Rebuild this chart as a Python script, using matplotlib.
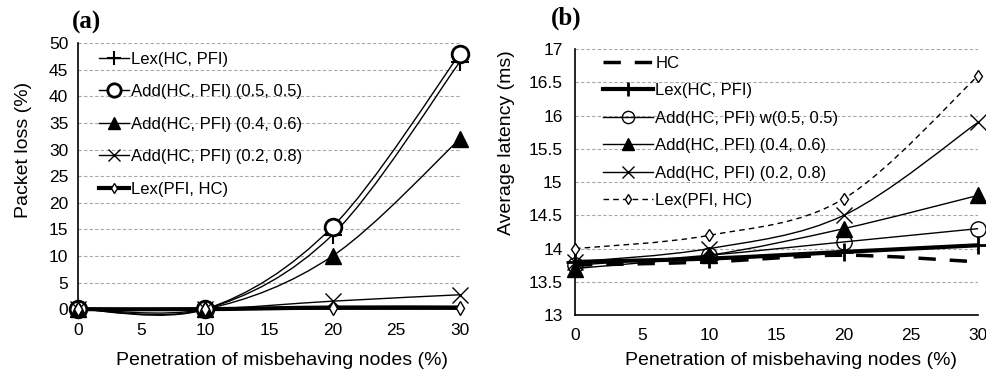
import numpy as np
import matplotlib
matplotlib.use("Agg")
import matplotlib.pyplot as plt
from matplotlib.path import Path
from matplotlib.patches import PathPatch
from matplotlib.lines import Line2D

plt.rcParams['font.family'] = ['Liberation Sans', 'DejaVu Sans']

x = [0, 10, 20, 30]

# (a) packet loss (%)
loss_lex_hc_pfi = [0, 0, 14, 46.5]
loss_add_55     = [0, 0, 15.5, 48]
loss_add_46     = [0, 0, 10, 32]
loss_add_28     = [0, 0, 1.5, 2.7]
loss_lex_pfi_hc = [0, 0, 0.3, 0.3]

# (b) average latency (ms)
lat_hc          = [13.75, 13.8, 13.9, 13.8]
lat_lex_hc_pfi  = [13.8, 13.85, 13.95, 14.05]
lat_add_55      = [13.75, 13.9, 14.1, 14.3]
lat_add_46      = [13.7, 13.9, 14.3, 14.8]
lat_add_28      = [13.8, 14.0, 14.5, 15.9]
lat_lex_pfi_hc  = [14.0, 14.2, 14.75, 16.6]

labels_a = ["Lex(HC, PFI)", "Add(HC, PFI) (0.5, 0.5)", "Add(HC, PFI) (0.4, 0.6)",
            "Add(HC, PFI) (0.2, 0.8)", "Lex(PFI, HC)"]
labels_b = ["HC", "Lex(HC, PFI)", "Add(HC, PFI) w(0.5, 0.5)", "Add(HC, PFI) (0.4, 0.6)",
            "Add(HC, PFI) (0.2, 0.8)", "Lex(PFI, HC)"]


def smooth_path(xs, ys):
    # excel-like smoothed line: cubic bezier through the points
    p = np.column_stack([xs, ys]).astype(float)
    n = len(p)
    verts = [p[0]]
    codes = [Path.MOVETO]
    for i in range(n - 1):
        p0 = p[i - 1] if i > 0 else p[i]
        p3 = p[i + 2] if i + 2 < n else p[i + 1]
        c1 = p[i] + (p[i + 1] - p0) / 6
        c2 = p[i + 1] - (p3 - p[i]) / 6
        verts += [c1, c2, p[i + 1]]
        codes += [Path.CURVE4] * 3
    return Path(verts, codes)


def draw(ax, ys, label, lw=1.0, ls='-', marker=None, ms=8, mfc='black', mew=1.0, handles=None):
    ax.add_patch(PathPatch(smooth_path(x, ys), fill=False, edgecolor='black', lw=lw,
                           linestyle=ls, clip_on=False, zorder=3, capstyle='butt'))
    if marker:
        ax.plot(x, ys, ls='none', marker=marker, ms=ms, mfc=mfc, mec='black', mew=mew,
                clip_on=False, zorder=4)
    handles.append(Line2D([], [], color='black', lw=lw, ls=ls, marker=marker, ms=ms * 0.8,
                          mfc=mfc, mec='black', mew=mew, label=label))


def style(ax, ylim, yticks, pad_x, pad_y):
    ax.set_xlim(0, 30)
    ax.set_ylim(*ylim)
    ax.set_xticks(range(0, 31, 5))
    ax.set_yticks(yticks)
    ax.tick_params(length=0, labelsize=12.5)
    ax.tick_params(axis='x', pad=pad_x)
    ax.tick_params(axis='y', pad=pad_y)
    for s in ['top', 'right']:
        ax.spines[s].set_visible(False)
    ax.spines['left'].set_linewidth(1.2)
    ax.spines['bottom'].set_linewidth(1.2)
    ax.yaxis.grid(True, color='#a8a8a8', lw=0.8, linestyle=(0, (3, 2)))
    ax.set_axisbelow(True)
    ax.set_xlabel("Penetration of misbehaving nodes (%)", fontsize=14)


fig = plt.figure(figsize=(9.87, 3.72), dpi=100)

# ---- (a)
ax1 = fig.add_axes([0.079, 0.169, 0.387, 0.715])
h1 = []
draw(ax1, loss_lex_hc_pfi, labels_a[0], marker='+', ms=13, mew=1.5, handles=h1)
draw(ax1, loss_add_55, labels_a[1], marker='o', ms=12, mfc='white', mew=2, handles=h1)
draw(ax1, loss_add_46, labels_a[2], marker='^', ms=11, handles=h1)
draw(ax1, loss_add_28, labels_a[3], marker='x', ms=11, mew=1.0, handles=h1)
draw(ax1, loss_lex_pfi_hc, labels_a[4], lw=3, marker='d', ms=7, mfc='white', mew=1.0, handles=h1)
style(ax1, (0, 50), range(0, 51, 5), 10, 7)
ax1.set_ylabel("Packet loss (%)", fontsize=14)
ax1.xaxis.set_label_coords(0.535, -0.16)
ax1.yaxis.set_label_coords(-0.12, 0.60)
ax1.legend(handles=h1, loc='upper left', bbox_to_anchor=(0.055, 0.968), frameon=False,
           fontsize=12, handlelength=1.8, handletextpad=0.15, labelspacing=1.05,
           borderpad=0, borderaxespad=0)
fig.text(0.073, 0.94, "(a)", fontsize=18, fontweight='bold', family='Liberation Serif',
         va='center', ha='left')

# ---- (b)
ax2 = fig.add_axes([0.5826, 0.153, 0.4084, 0.715])
h2 = []
draw(ax2, lat_hc, labels_b[0], lw=2.5, ls=(0, (5, 4)), handles=h2)
draw(ax2, lat_lex_hc_pfi, labels_b[1], lw=3, marker='+', ms=13, mew=2, handles=h2)
draw(ax2, lat_add_55, labels_b[2], marker='o', ms=11, mfc='none', mew=1.0, handles=h2)
draw(ax2, lat_add_46, labels_b[3], marker='^', ms=11, handles=h2)
draw(ax2, lat_add_28, labels_b[4], marker='x', ms=11, mew=1.0, handles=h2)
draw(ax2, lat_lex_pfi_hc, labels_b[5], ls=(0, (4, 3)), marker='d', ms=6, mfc='white', mew=1.0, handles=h2)
style(ax2, (13, 17), np.arange(13, 17.01, 0.5), 9, 9)
ax2.set_yticklabels(["13", "13.5", "14", "14.5", "15", "15.5", "16", "16.5", "17"])
ax2.set_ylabel("Average latency (ms)", fontsize=14)
ax2.xaxis.set_label_coords(0.535, -0.14)
ax2.yaxis.set_label_coords(-0.149, 0.65)
ax2.legend(handles=h2, loc='upper left', bbox_to_anchor=(0.069, 0.975), frameon=False,
           fontsize=12, handlelength=3.0, handletextpad=0.15, labelspacing=0.75,
           borderpad=0, borderaxespad=0)
fig.text(0.558, 0.95, "(b)", fontsize=18, fontweight='bold', family='Liberation Serif',
         va='center', ha='left')

fig.savefig("out.png", dpi=100)
